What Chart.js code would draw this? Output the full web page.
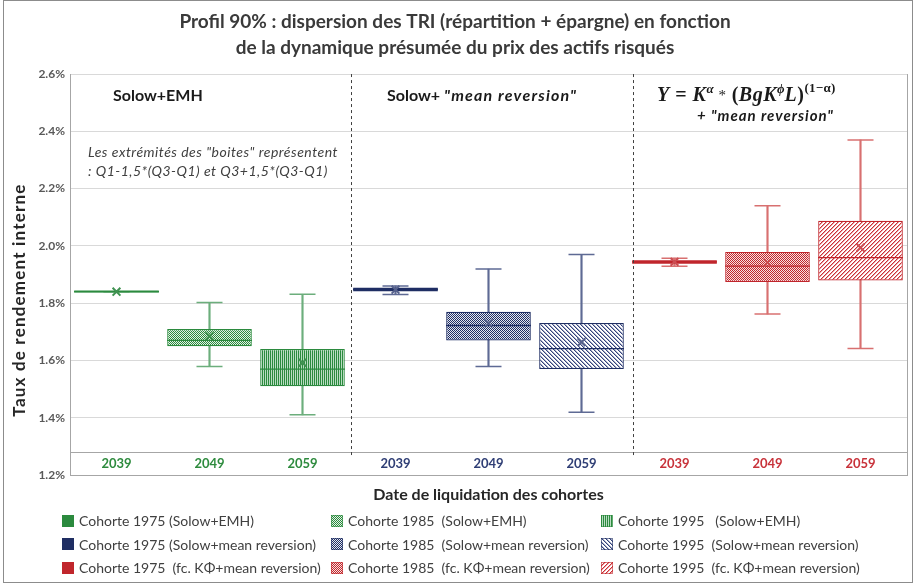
<!DOCTYPE html>
<html>
<head>
<meta charset="utf-8">
<script src="https://cdn.jsdelivr.net/npm/chart.js@4.4.0/dist/chart.umd.min.js"></script>
<style>
  html, body { margin: 0; padding: 0; background: #fff; }
  #wrap { position: relative; width: 916px; height: 584px; }
  #frame { position: absolute; left: 3px; top: 0; width: 908px; height: 581px; border: 1px solid #8c8c8c; pointer-events: none; }
  #legend { position: absolute; left: 62px; top: 509px; display: grid; grid-template-columns: 269px 270px 290px; grid-auto-rows: 23.5px; font: 14px Lato, sans-serif; color: #404040; }
  .item { display: flex; align-items: center; white-space: pre; }
  .item canvas { width: 12px; height: 12px; margin-right: 5px; }
</style>
</head>
<body>
<div id="wrap">
  <canvas id="chart" width="916" height="584"></canvas>
  <div id="legend"></div>
  <div id="frame"></div>
</div>
<script>
// catégories : date de liquidation, 3 cohortes x 3 modèles
const years = ['2039', '2049', '2059', '2039', '2049', '2059', '2039', '2049', '2059'];
const seriesNames = [
  'Cohorte 1975 (Solow+EMH)', 'Cohorte 1985  (Solow+EMH)', 'Cohorte 1995   (Solow+EMH)',
  'Cohorte 1975 (Solow+mean reversion)', 'Cohorte 1985  (Solow+mean reversion)', 'Cohorte 1995  (Solow+mean reversion)',
  'Cohorte 1975  (fc. KΦ+mean reversion)', 'Cohorte 1985  (fc. KΦ+mean reversion)', 'Cohorte 1995  (fc. KΦ+mean reversion)'
];
// TRI en %
const whiskerLow  = [1.840, 1.579, 1.410, 1.830, 1.579, 1.419, 1.929, 1.762, 1.642];
const boxLow      = [1.837, 1.650, 1.510, 1.842, 1.670, 1.570, 1.938, 1.874, 1.879];
const medians     = [1.840, 1.670, 1.570, 1.848, 1.722, 1.641, 1.944, 1.929, 1.959];
const boxHigh     = [1.844, 1.710, 1.640, 1.854, 1.770, 1.731, 1.950, 1.979, 2.088];
const whiskerHigh = [1.840, 1.802, 1.831, 1.860, 1.919, 1.970, 1.957, 2.140, 2.370];
const means       = [1.840, 1.685, 1.592, 1.847, 1.730, 1.664, 1.944, 1.942, 1.994];
const yTicks = [1.2, 1.4, 1.6, 1.8, 2.0, 2.2, 2.4, 2.6];

const dark    = ['#2B8A3E', '#1F2E63', '#C0262C'];
const light   = ['#e3f1e6', '#e4e7f0', '#f9e1e1'];
const hatch   = ['#2B8A3E', '#34427a', '#cc3036'];
const hatch2  = ['#b9dcc1', '#a4abc6', '#eaa2a4'];
const whisk   = ['#6cae7c', '#5e6a94', '#d87070'];
const meanCol = ['#3f9150', '#56618c', '#cc4e53'];
const tickCol = ['#2E8B3E', '#2F3E75', '#C8323A'];
const kinds   = ['solid', 'checker', 'vert', 'solid', 'checker', 'back', 'solid', 'checker', 'fwd'];
const grp = i => Math.floor(i / 3);

function tile(kind, i) {
  const g0 = grp(i), col = dark[g0];
  const t = document.createElement('canvas');
  const g = t.getContext('2d');
  if (kind === 'solid') {
    t.width = t.height = 1; g.fillStyle = col; g.fillRect(0, 0, 1, 1);
  } else if (kind === 'checker') {
    t.width = t.height = 2; g.fillStyle = light[g0]; g.fillRect(0, 0, 2, 2);
    g.fillStyle = col; g.fillRect(0, 0, 1, 1); g.fillRect(1, 1, 1, 1);
  } else if (kind === 'vert') {
    t.width = 2; t.height = 1; g.fillStyle = hatch2[g0]; g.fillRect(0, 0, 2, 1);
    g.fillStyle = col; g.fillRect(0, 0, 1, 1);
  } else {
    t.width = t.height = 4; g.fillStyle = '#fff'; g.fillRect(0, 0, 4, 4);
    for (let k = 0; k < 4; k++) {
      const px = kind === 'back' ? k : 3 - k;
      g.fillStyle = hatch[g0]; g.fillRect(px, k, 1, 1);
      g.fillStyle = hatch2[g0]; g.fillRect((px + 1) % 4, k, 1, 1);
    }
  }
  return t;
}
const fillFor = (g2d, i) => g2d.createPattern(tile(kinds[i], i), 'repeat');

const canvas = document.getElementById('chart');
const c2d = canvas.getContext('2d');
const boxFills = years.map((_, i) => fillFor(c2d, i));

// légende en 3 colonnes
const leg = document.getElementById('legend');
seriesNames.forEach((name, i) => {
  const it = document.createElement('div');
  it.className = 'item';
  const sw = document.createElement('canvas');
  sw.width = 12; sw.height = 12;
  const g = sw.getContext('2d');
  g.fillStyle = fillFor(g, i); g.fillRect(0, 0, 12, 12);
  g.strokeStyle = dark[grp(i)]; g.globalAlpha = 0.6; g.strokeRect(0.5, 0.5, 11, 11);
  it.appendChild(sw);
  it.appendChild(document.createTextNode(name));
  leg.appendChild(it);
});

function drawRuns(ctx, x, y, runs) {
  runs.forEach(r => {
    ctx.font = r.f;
    ctx.letterSpacing = r.ls || '0px';
    ctx.fillText(r.t, x, y - (r.up || 0));
    x += ctx.measureText(r.t).width;
  });
  ctx.letterSpacing = '0px';
}

const notes = {
  id: 'notes',
  afterDatasetsDraw(chart) {
    const { ctx, chartArea: a, scales: { x } } = chart;
    ctx.save();
    const yBand = a.bottom - 23;
    ctx.strokeStyle = '#a6a6a6';
    ctx.lineWidth = 1;
    ctx.beginPath();
    ctx.moveTo(a.left, yBand + 0.5); ctx.lineTo(a.right, yBand + 0.5);
    ctx.moveTo(a.right + 0.5, a.top); ctx.lineTo(a.right + 0.5, a.bottom);
    ctx.stroke();

    ctx.setLineDash([3, 3]);
    ctx.strokeStyle = '#404040';
    [2.52, 5.55].forEach(v => {
      const px = Math.round(x.getPixelForValue(v)) + 0.5;
      ctx.beginPath(); ctx.moveTo(px, a.top); ctx.lineTo(px, yBand + 4); ctx.stroke();
    });
    ctx.setLineDash([]);

    ctx.fillStyle = '#1a1a1a';
    ctx.textBaseline = 'middle';
    ctx.textAlign = 'left';
    drawRuns(ctx, 113, 96, [{ t: 'Solow+EMH', f: 'bold 16px Lato' }]);
    drawRuns(ctx, 387, 96, [
      { t: 'Solow+ ', f: 'bold 16px Lato' },
      { t: '"mean reversion"', f: 'italic bold 16px Lato', ls: '1.2px' }
    ]);
    const bi = 'italic bold 20px "Liberation Serif"', b = 'bold 20px "Liberation Serif"';
    const sbi = 'italic bold 13px "Liberation Serif"', sb = 'bold 13px "Liberation Serif"';
    drawRuns(ctx, 657, 96, [
      { t: 'Y', f: bi, ls: '0.5px' }, { t: ' = ', f: b, ls: '0.5px' }, { t: 'K', f: bi, ls: '0.5px' },
      { t: 'α', f: sbi, up: 6 }, { t: ' * ', f: '15px "Liberation Serif"', ls: '1px' },
      { t: '(', f: b, ls: '0.5px' }, { t: 'BgK', f: bi, ls: '0.5px' }, { t: 'ϕ', f: sbi, up: 6 },
      { t: 'L', f: bi, ls: '0.5px' }, { t: ')', f: b, ls: '0.5px' }, { t: '(1−α)', f: sb, up: 7, ls: '0.3px' }
    ]);
    drawRuns(ctx, 697, 116, [{ t: '+ "mean reversion"', f: 'italic bold 15px Lato', ls: '1px' }]);

    ctx.fillStyle = '#404040';
    drawRuns(ctx, 88, 152, [{ t: 'Les extrémités des "boites" représentent', f: 'italic 14px Lato', ls: '0.5px' }]);
    drawRuns(ctx, 88, 171, [{ t: ': Q1-1,5*(Q3-Q1) et Q3+1,5*(Q3-Q1)', f: 'italic 14px Lato', ls: '0.5px' }]);

    // titre de l'axe vertical
    ctx.save();
    ctx.translate(20, 300);
    ctx.rotate(-Math.PI / 2);
    ctx.textAlign = 'center';
    ctx.fillStyle = '#262626';
    ctx.font = 'bold 17px Lato';
    ctx.letterSpacing = '1.2px';
    ctx.fillText('Taux de rendement interne', 0, 0);
    ctx.restore();
    ctx.restore();
  }
};

const pointSet = (label, data, style, radius, width, colors, order) => ({
  type: 'line', label, data, showLine: false, pointStyle: style,
  pointRadius: radius, pointHoverRadius: radius, pointBorderWidth: width,
  pointBorderColor: colors, pointBackgroundColor: colors, order
});

new Chart(canvas, {
  data: {
    labels: years,
    datasets: [
      {
        type: 'bar', label: 'moustaches',
        data: years.map((_, i) => [whiskerLow[i], whiskerHigh[i]]),
        backgroundColor: years.map((_, i) => whisk[grp(i)]),
        barThickness: 1.5, grouped: false, order: 6
      },
      {
        type: 'bar', label: 'boîtes',
        data: years.map((_, i) => [boxLow[i], boxHigh[i]]),
        backgroundColor: boxFills,
        borderColor: years.map((_, i) => dark[grp(i)]),
        borderWidth: years.map((_, i) => kinds[i] === 'solid' ? 0 : 1.2),
        borderSkipped: false, barPercentage: 0.91, categoryPercentage: 1,
        grouped: false, order: 5
      },
      pointSet('max', whiskerHigh, 'line', 13, 1.5, years.map((_, i) => whisk[grp(i)]), 4),
      pointSet('min', whiskerLow, 'line', 13, 1.5, years.map((_, i) => whisk[grp(i)]), 3),
      pointSet('médiane', medians, 'line', 42.5, 1.3, years.map((_, i) => dark[grp(i)]), 2),
      pointSet('moyenne', means, 'crossRot', 5.5, 2, years.map((_, i) => meanCol[grp(i)]), 1)
    ]
  },
  options: {
    responsive: false,
    animation: false,
    layout: { autoPadding: false, padding: { left: 3, right: 9, top: 0, bottom: 78 } },
    plugins: {
      legend: { display: false },
      tooltip: { enabled: false },
      title: {
        display: true,
        text: ['Profil 90% : dispersion des TRI (répartition + épargne) en fonction',
               'de la dynamique présumée du prix des actifs risqués'],
        font: { family: 'Lato', size: 19, weight: 'bold', lineHeight: 1.37 },
        color: '#3a3a3a',
        padding: { top: 9, bottom: 13 }
      }
    },
    scales: {
      x: {
        offset: true,
        grid: { display: false, drawTicks: false },
        border: { display: true, color: '#a6a6a6' },
        ticks: {
          mirror: true, padding: 3, autoSkip: false, maxRotation: 0,
          color: c => tickCol[grp(c.index)],
          font: { family: 'Lato', size: 13, weight: 'bold' }
        },
        title: {
          display: true, text: 'Date de liquidation des cohortes',
          font: { family: 'Lato', size: 16, weight: 'bold' }, color: '#262626',
          padding: { top: 0, bottom: 2 }
        },
        afterFit: s => { s.height = 31; }
      },
      y: {
        min: 1.2, max: 2.6,
        afterBuildTicks: s => { s.ticks = yTicks.map(v => ({ value: v })); },
        ticks: {
          callback: v => v.toFixed(1) + '%',
          color: '#595959', padding: 5,
          font: { family: 'Lato', size: 12, weight: 'bold' }
        },
        grid: { color: '#d9d9d9', drawTicks: false },
        border: { color: '#a6a6a6' },
        title: { display: false },
        afterFit: s => { s.width = 67; }
      }
    }
  },
  plugins: [notes]
});
</script>
</body>
</html>
